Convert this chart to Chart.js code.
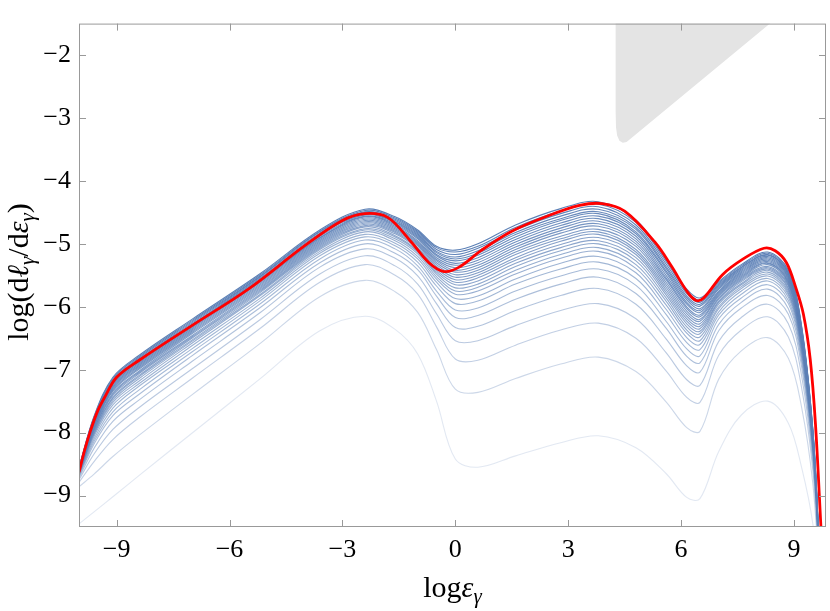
<!DOCTYPE html>
<html>
<head>
<meta charset="utf-8">
<script src="https://cdn.jsdelivr.net/npm/chart.js@4.4.1/dist/chart.umd.min.js"></script>
<style>
    html, body { margin: 0; padding: 0; background: #fff; }
    #wrap { width: 830px; height: 611px; }
</style>
</head>
<body>
<div id="wrap"><canvas id="chartSpectra" width="830" height="611"></canvas></div>
<script>
// log(eps_gamma) positions where the blue spectra are sampled
const energyKnots = [-10, -9.6, -9.1, -8.4, -7, -5.2, -3.6, -2.4, -1.6, -1.0, -0.5, 0.0, 0.6, 1.6, 2.8, 3.8, 4.8, 5.6, 6.15, 6.5, 7.0, 7.6, 8.3, 8.85, 9.2, 9.5, 9.65, 9.85]

// one row per knot: log(dl/de) of every blue curve there, faintest (lowest) curve first
const spectraAtKnot = [
    [-9.45, -8.86, -8.79, -8.75, -8.72, -8.70, -8.68, -8.67, -8.66, -8.65, -8.64, -8.63, -8.63, -8.62, -8.62, -8.61, -8.60, -8.60, -8.59, -8.59, -8.58, -8.58, -8.57, -8.57, -8.56, -8.56, -8.56, -8.55],
    [-9.26, -8.66, -8.46, -8.34, -8.25, -8.18, -8.14, -8.10, -8.06, -8.03, -8.01, -7.99, -7.97, -7.95, -7.94, -7.92, -7.90, -7.89, -7.87, -7.86, -7.84, -7.83, -7.81, -7.80, -7.78, -7.77, -7.75, -7.74],
    [-9.02, -8.38, -8.11, -7.95, -7.82, -7.73, -7.67, -7.61, -7.56, -7.52, -7.49, -7.46, -7.44, -7.41, -7.39, -7.37, -7.34, -7.32, -7.30, -7.28, -7.26, -7.24, -7.22, -7.20, -7.18, -7.16, -7.14, -7.12],
    [-8.68, -8.04, -7.76, -7.60, -7.48, -7.39, -7.32, -7.26, -7.22, -7.18, -7.14, -7.11, -7.09, -7.06, -7.04, -7.02, -6.99, -6.97, -6.95, -6.93, -6.91, -6.89, -6.87, -6.85, -6.83, -6.81, -6.79, -6.77],
    [-8.01, -7.40, -7.14, -6.99, -6.87, -6.78, -6.72, -6.67, -6.62, -6.58, -6.55, -6.53, -6.50, -6.48, -6.46, -6.43, -6.41, -6.39, -6.37, -6.35, -6.33, -6.31, -6.29, -6.28, -6.26, -6.24, -6.22, -6.20],
    [-7.15, -6.59, -6.35, -6.21, -6.10, -6.02, -5.96, -5.91, -5.87, -5.83, -5.81, -5.78, -5.76, -5.74, -5.72, -5.70, -5.68, -5.66, -5.64, -5.62, -5.60, -5.58, -5.57, -5.55, -5.53, -5.52, -5.50, -5.48],
    [-6.38, -5.84, -5.61, -5.48, -5.37, -5.30, -5.24, -5.19, -5.15, -5.12, -5.09, -5.07, -5.05, -5.03, -5.01, -4.99, -4.97, -4.95, -4.93, -4.91, -4.90, -4.88, -4.86, -4.85, -4.83, -4.81, -4.80, -4.78],
    [-6.15, -5.58, -5.33, -5.19, -5.08, -5.00, -4.94, -4.89, -4.85, -4.81, -4.78, -4.76, -4.73, -4.71, -4.69, -4.67, -4.65, -4.63, -4.61, -4.59, -4.57, -4.56, -4.54, -4.52, -4.50, -4.49, -4.47, -4.45],
    [-6.36, -5.76, -5.50, -5.35, -5.23, -5.15, -5.08, -5.03, -4.99, -4.95, -4.92, -4.89, -4.87, -4.84, -4.82, -4.80, -4.78, -4.76, -4.74, -4.72, -4.70, -4.68, -4.66, -4.65, -4.63, -4.61, -4.59, -4.57],
    [-6.75, -6.09, -5.80, -5.64, -5.51, -5.41, -5.35, -5.29, -5.24, -5.20, -5.16, -5.13, -5.11, -5.08, -5.06, -5.03, -5.01, -4.99, -4.97, -4.95, -4.92, -4.90, -4.88, -4.86, -4.84, -4.82, -4.80, -4.78],
    [-7.50, -6.68, -6.32, -6.11, -5.95, -5.83, -5.75, -5.67, -5.61, -5.56, -5.52, -5.48, -5.45, -5.42, -5.39, -5.36, -5.33, -5.30, -5.27, -5.25, -5.22, -5.19, -5.17, -5.14, -5.12, -5.09, -5.06, -5.04],
    [-8.42, -7.31, -6.83, -6.54, -6.33, -6.17, -6.05, -5.95, -5.87, -5.80, -5.75, -5.70, -5.65, -5.61, -5.57, -5.53, -5.49, -5.45, -5.42, -5.38, -5.34, -5.31, -5.27, -5.24, -5.21, -5.17, -5.13, -5.10],
    [-8.55, -7.36, -6.85, -6.54, -6.31, -6.14, -6.02, -5.91, -5.83, -5.75, -5.69, -5.64, -5.59, -5.54, -5.50, -5.46, -5.42, -5.38, -5.34, -5.30, -5.26, -5.22, -5.18, -5.15, -5.11, -5.07, -5.04, -5.00],
    [-8.37, -7.14, -6.61, -6.30, -6.06, -5.88, -5.75, -5.64, -5.56, -5.48, -5.42, -5.36, -5.31, -5.26, -5.22, -5.17, -5.13, -5.09, -5.05, -5.01, -4.97, -4.93, -4.89, -4.85, -4.82, -4.78, -4.74, -4.70],
    [-8.16, -6.91, -6.37, -6.06, -5.82, -5.64, -5.51, -5.40, -5.31, -5.23, -5.17, -5.11, -5.06, -5.01, -4.96, -4.92, -4.88, -4.83, -4.79, -4.75, -4.71, -4.67, -4.63, -4.60, -4.56, -4.52, -4.48, -4.44],
    [-8.05, -6.80, -6.26, -5.95, -5.71, -5.53, -5.40, -5.29, -5.20, -5.12, -5.06, -5.00, -4.95, -4.90, -4.85, -4.81, -4.77, -4.72, -4.68, -4.64, -4.60, -4.56, -4.52, -4.49, -4.45, -4.41, -4.37, -4.33],
    [-8.24, -7.03, -6.50, -6.19, -5.96, -5.79, -5.66, -5.55, -5.46, -5.39, -5.33, -5.27, -5.22, -5.17, -5.13, -5.09, -5.04, -5.00, -4.96, -4.92, -4.88, -4.84, -4.81, -4.77, -4.74, -4.70, -4.66, -4.62],
    [-8.65, -7.51, -7.02, -6.73, -6.51, -6.34, -6.23, -6.12, -6.04, -5.97, -5.91, -5.86, -5.81, -5.77, -5.73, -5.69, -5.65, -5.61, -5.57, -5.54, -5.50, -5.46, -5.43, -5.39, -5.36, -5.32, -5.28, -5.25],
    [-9.03, -7.92, -7.44, -7.16, -6.94, -6.79, -6.67, -6.57, -6.49, -6.42, -6.37, -6.32, -6.27, -6.23, -6.19, -6.15, -6.11, -6.07, -6.03, -6.00, -5.96, -5.93, -5.89, -5.86, -5.83, -5.79, -5.75, -5.72],
    [-9.05, -7.98, -7.52, -7.25, -7.04, -6.89, -6.78, -6.68, -6.60, -6.54, -6.48, -6.43, -6.39, -6.35, -6.31, -6.27, -6.23, -6.20, -6.16, -6.13, -6.09, -6.06, -6.03, -5.99, -5.96, -5.93, -5.89, -5.86],
    [-8.30, -7.15, -6.77, -6.55, -6.38, -6.28, -6.19, -6.13, -6.08, -6.03, -6.00, -5.96, -5.93, -5.91, -5.88, -5.86, -5.83, -5.81, -5.79, -5.77, -5.75, -5.72, -5.70, -5.68, -5.66, -5.64, -5.62, -5.60],
    [-7.72, -6.70, -6.37, -6.17, -6.02, -5.93, -5.86, -5.80, -5.75, -5.71, -5.68, -5.65, -5.63, -5.60, -5.58, -5.56, -5.54, -5.52, -5.50, -5.48, -5.46, -5.44, -5.42, -5.40, -5.38, -5.37, -5.35, -5.33],
    [-7.50, -6.49, -6.16, -5.96, -5.82, -5.72, -5.65, -5.59, -5.55, -5.51, -5.48, -5.45, -5.42, -5.40, -5.38, -5.36, -5.33, -5.31, -5.30, -5.28, -5.26, -5.24, -5.22, -5.20, -5.18, -5.17, -5.15, -5.13],
    [-7.85, -6.82, -6.48, -6.27, -6.12, -6.03, -5.95, -5.90, -5.85, -5.81, -5.78, -5.75, -5.72, -5.70, -5.67, -5.65, -5.63, -5.61, -5.59, -5.57, -5.55, -5.53, -5.51, -5.49, -5.47, -5.46, -5.44, -5.42],
    [-8.55, -7.59, -7.28, -7.09, -6.95, -6.86, -6.80, -6.74, -6.70, -6.66, -6.63, -6.60, -6.58, -6.56, -6.53, -6.51, -6.49, -6.48, -6.46, -6.44, -6.42, -6.40, -6.39, -6.37, -6.35, -6.33, -6.32, -6.30],
    [-9.45, -8.81, -8.60, -8.48, -8.39, -8.33, -8.28, -8.24, -8.22, -8.19, -8.17, -8.15, -8.14, -8.12, -8.11, -8.09, -8.08, -8.07, -8.06, -8.04, -8.03, -8.02, -8.01, -8.00, -7.98, -7.97, -7.96, -7.95],
    [-10.50, -10.12, -9.99, -9.92, -9.86, -9.83, -9.80, -9.78, -9.76, -9.74, -9.73, -9.72, -9.71, -9.70, -9.69, -9.69, -9.68, -9.67, -9.66, -9.66, -9.65, -9.64, -9.63, -9.63, -9.62, -9.61, -9.61, -9.60],
    [-13, -13, -13, -13, -13, -13, -13, -13, -13, -13, -13, -13, -13, -13, -13, -13, -13, -13, -13, -13, -13, -13, -13, -13, -13, -13, -13, -13]
]

// red curve
const redX = [-10, -9.85, -9.7, -9.5, -9.3, -9.0, -8.4, -7.0, -5.5, -4.0, -3.0, -2.4, -1.8, -1.2, -0.7, -0.3, 0.1, 0.7, 1.5, 2.4, 3.3, 3.9, 4.5, 5.3, 5.75, 6.15, 6.4, 6.6, 7.1, 7.65, 8.2, 8.5, 8.8, 9.05, 9.25, 9.43, 9.57, 9.72]
const redY = [-8.63, -8.28, -7.98, -7.65, -7.42, -7.12, -6.85, -6.30, -5.72, -5.03, -4.63, -4.52, -4.58, -4.95, -5.30, -5.44, -5.37, -5.10, -4.80, -4.57, -4.39, -4.36, -4.48, -4.97, -5.36, -5.75, -5.90, -5.86, -5.49, -5.24, -5.07, -5.11, -5.30, -5.70, -6.12, -6.83, -7.86, -9.55]

// grey excluded region (outline, top right)
const regionX = [4.26, 4.26, 4.27, 4.30, 4.36, 4.45, 4.55, 4.68, 8.56]
const regionY = [-1.4, -2.9, -3.15, -3.28, -3.36, -3.395, -3.38, -3.32, -1.4]

const xTicks = [-9, -6, -3, 0, 3, 6, 9]
const yTicks = [-9, -8, -7, -6, -5, -4, -3, -2]

function minusLabel(v) {
    return v < 0 ? '\u2212' + Math.abs(v) : String(v)
}

// draws pieces of text with their own fonts, centred on cx
function drawRich(ctx, parts, cx, baseline) {
    let total = 0
    parts.forEach(function(p) {
        ctx.font = p.font
        p.w = ctx.measureText(p.text).width
        total += p.w
    })
    let x = cx - total / 2
    parts.forEach(function(p) {
        ctx.font = p.font
        ctx.fillText(p.text, x, baseline + (p.dy || 0))
        x += p.w
    })
}

const serif = '"Liberation Serif", "Times New Roman", serif'
const up = '30px ' + serif
const it = 'italic 30px ' + serif
const sub = 'italic 21px ' + serif

const framePlugin = {
    id: 'frame',
    afterDraw: function(chart) {
        const ctx = chart.ctx
        const a = chart.chartArea
        const sx = chart.scales.x
        const sy = chart.scales.y
        ctx.save()
        ctx.strokeStyle = '#999999'
        ctx.lineWidth = 1
        ctx.strokeRect(a.left + 0.5, a.top + 0.5, a.right - a.left - 1, a.bottom - a.top - 1)
        ctx.beginPath()
        xTicks.forEach(function(v) {
            let px = Math.round(sx.getPixelForValue(v)) + 0.5
            ctx.moveTo(px, a.bottom)
            ctx.lineTo(px, a.bottom - 7)
            ctx.moveTo(px, a.top)
            ctx.lineTo(px, a.top + 7)
        })
        yTicks.forEach(function(v) {
            let py = Math.round(sy.getPixelForValue(v)) + 0.5
            ctx.moveTo(a.left, py)
            ctx.lineTo(a.left + 7, py)
            ctx.moveTo(a.right, py)
            ctx.lineTo(a.right - 7, py)
        })
        ctx.stroke()

        // axis titles
        ctx.fillStyle = '#000'
        ctx.textBaseline = 'alphabetic'
        ctx.textAlign = 'left'
        drawRich(ctx, [
            { text: 'log', font: up },
            { text: '\u03b5', font: it },
            { text: '\u03b3', font: sub, dy: 6 }
        ], (a.left + a.right) / 2, 597)

        ctx.translate(28, 272)
        ctx.rotate(-Math.PI / 2)
        drawRich(ctx, [
            { text: 'log(d', font: up },
            { text: '\u2113', font: it },
            { text: '\u03b3', font: sub, dy: 6 },
            { text: '/d', font: up },
            { text: '\u03b5', font: it },
            { text: '\u03b3', font: sub, dy: 6 },
            { text: ')', font: up }
        ], 0, 0)
        ctx.restore()
    }
}

let datasets = []

datasets.push({
    data: redX.map(function(x, i) { return { x: x, y: redY[i] } }),
    borderColor: 'rgb(255, 0, 0)',
    borderWidth: 2.8,
    tension: 0.35,
    order: 0
})

let nCurves = spectraAtKnot[0].length
for (let n = 0; n < nCurves; n++) {
    let alpha = 0.18 + 0.82 * Math.pow(n / (nCurves - 1), 0.55)
    datasets.push({
        data: energyKnots.map(function(x, i) { return { x: x, y: spectraAtKnot[i][n] } }),
        borderColor: `rgba(92, 128, 182, ${alpha.toFixed(3)})`,
        borderWidth: 1.1,
        tension: 0.35,
        order: 60 - n
    })
}

datasets.push({
    data: regionX.map(function(x, i) { return { x: x, y: regionY[i] } }),
    fill: 'shape',
    backgroundColor: 'rgb(228, 228, 228)',
    borderColor: 'rgba(0, 0, 0, 0)',
    borderWidth: 0,
    tension: 0,
    order: 100
})

const tickFont = { family: serif, size: 26 }

var ctx = document.getElementById('chartSpectra').getContext('2d')
var chart = new Chart(ctx, {
    type: 'line',
    data: { datasets: datasets },
    options: {
        responsive: false,
        animation: false,
        events: [],
        elements: { point: { radius: 0 } },
        layout: { padding: { top: 8, right: 4, left: 0, bottom: 0 } },
        plugins: {
            legend: { display: false },
            tooltip: { enabled: false }
        },
        scales: {
            x: {
                type: 'linear',
                min: -10,
                max: 9.85,
                grid: { display: false, drawTicks: false },
                border: { display: false },
                ticks: { font: tickFont, color: '#000', padding: 8, maxRotation: 0, autoSkip: false, callback: minusLabel },
                afterBuildTicks: function(axis) { axis.ticks = xTicks.map(function(v) { return { value: v } }) },
                afterFit: function(axis) { axis.height = 84 }
            },
            y: {
                type: 'linear',
                min: -9.5,
                max: -1.5,
                grid: { display: false, drawTicks: false },
                border: { display: false },
                ticks: { font: tickFont, color: '#000', padding: 8, autoSkip: false, callback: minusLabel },
                afterBuildTicks: function(axis) { axis.ticks = yTicks.map(function(v) { return { value: v } }) },
                afterFit: function(axis) { axis.width = 79 }
            }
        }
    },
    plugins: [framePlugin]
})
</script>
</body>
</html>
